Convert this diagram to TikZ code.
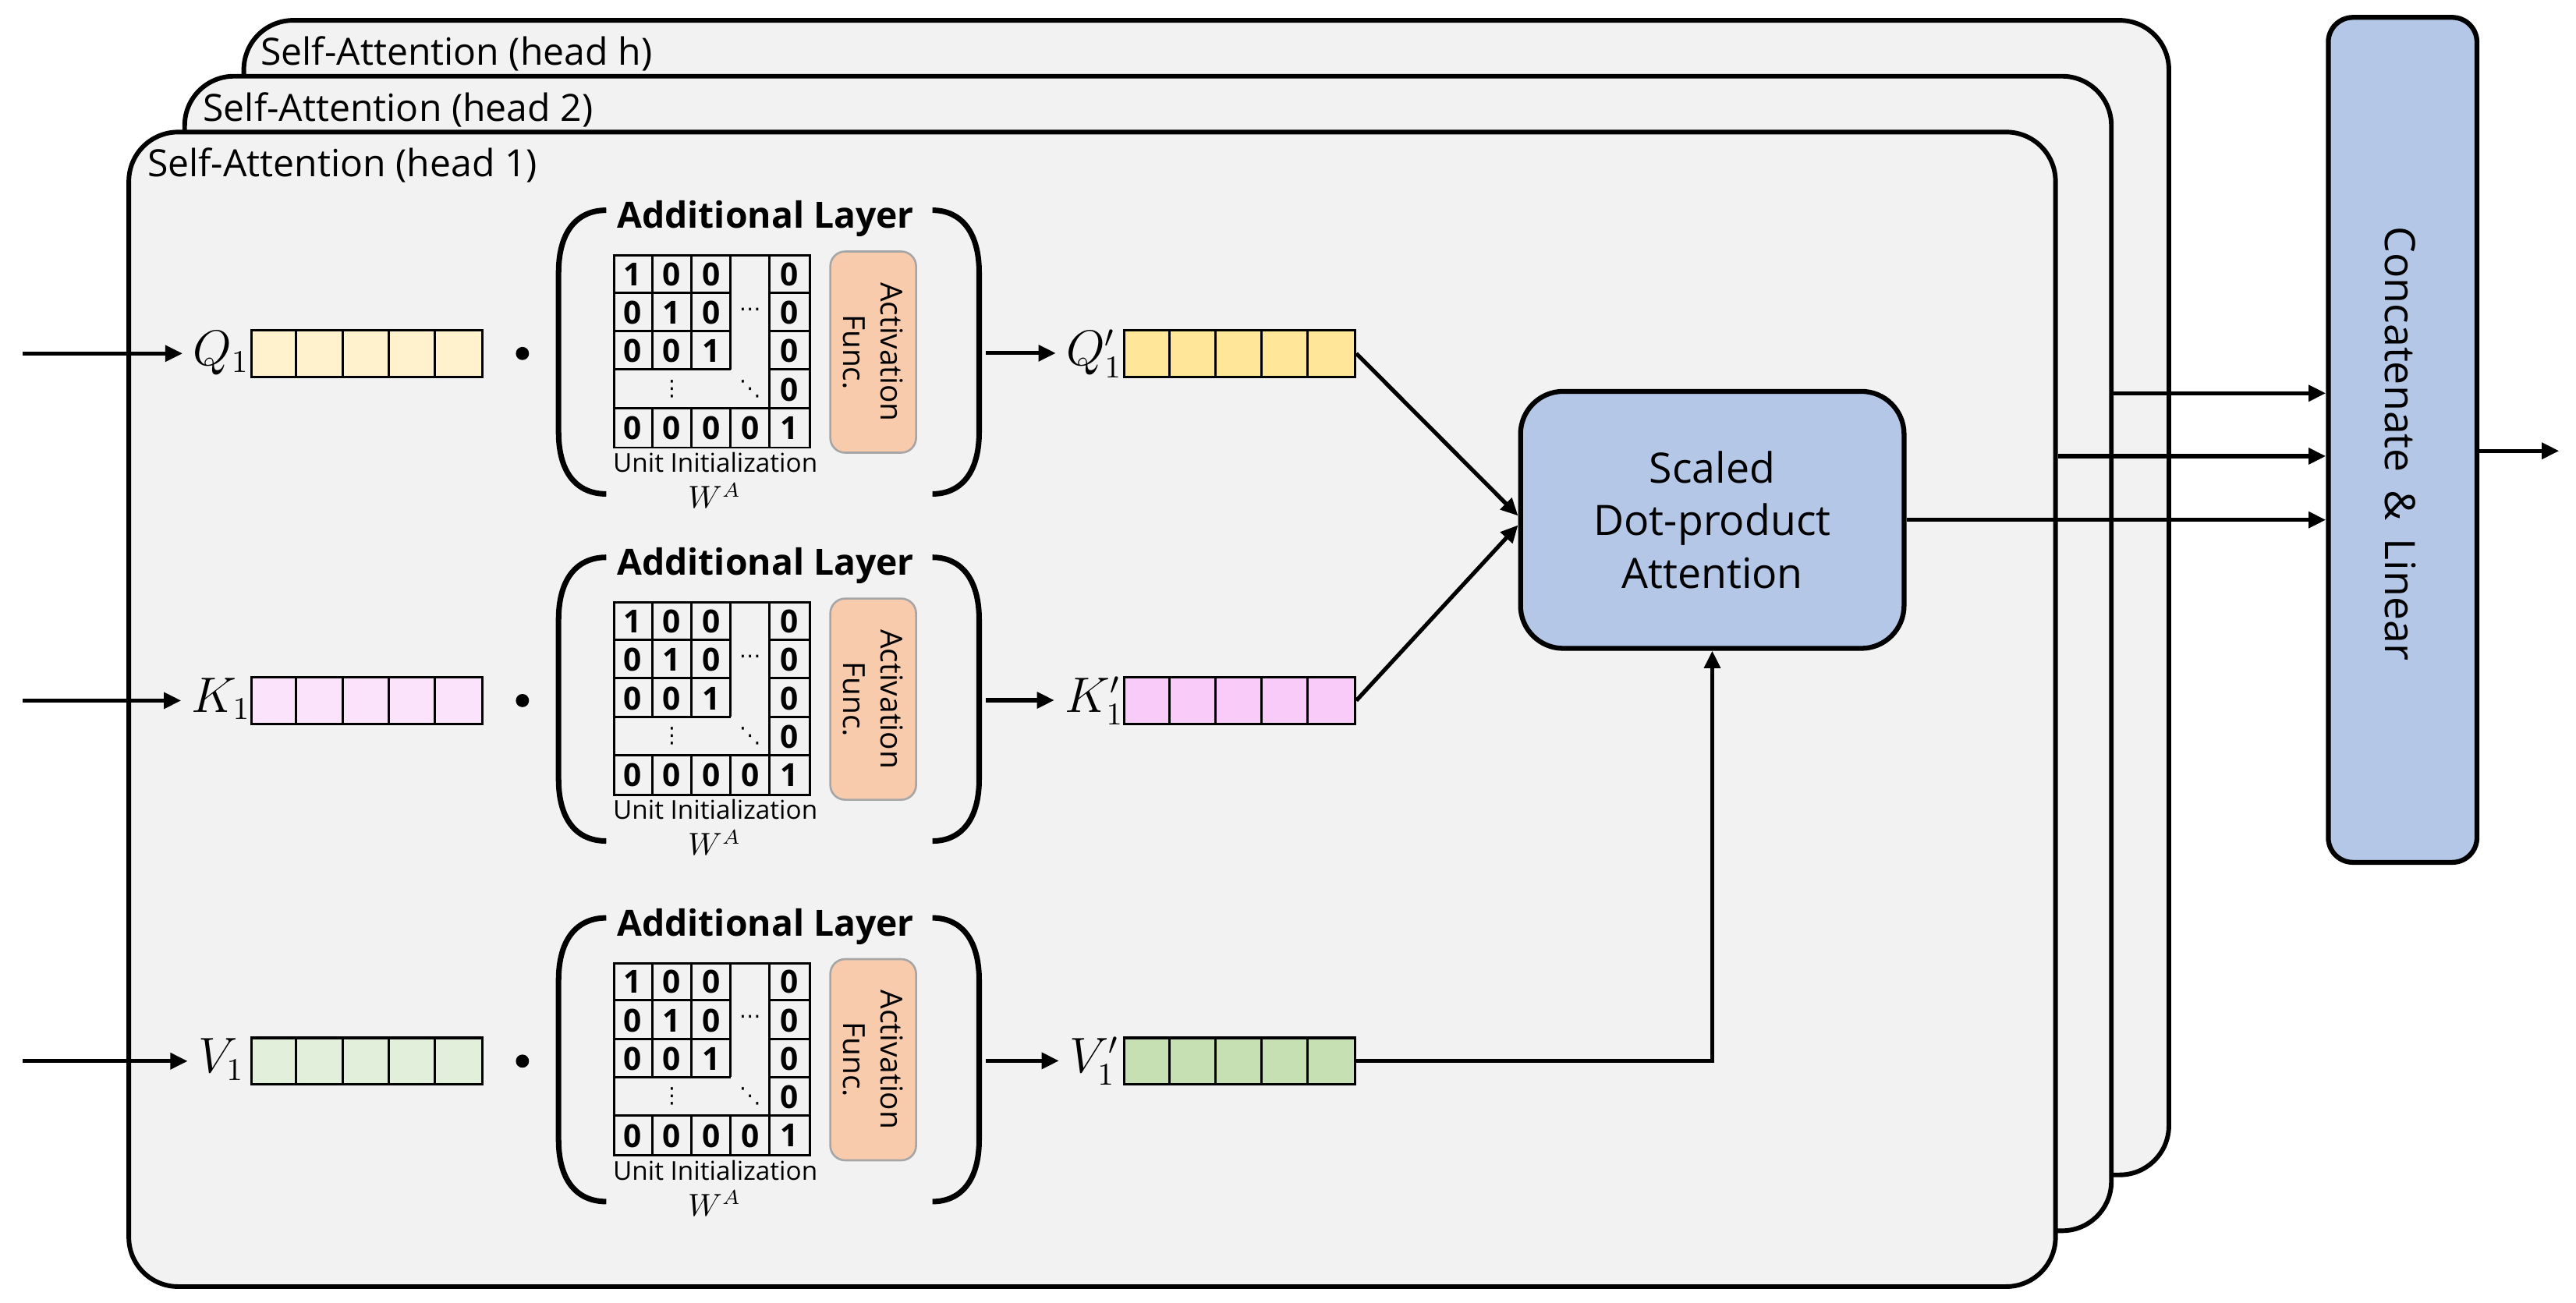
\documentclass[tikz,border=0pt]{standalone}
\usepackage{fontspec}
\setmainfont{Open Sans}
\newfontfamily\dejavu{DejaVu Sans}
\usetikzlibrary{arrows.meta,calc}
\definecolor{framefill}{HTML}{F2F2F2}
\definecolor{qlight}{HTML}{FFF2CC}
\definecolor{qdark}{HTML}{FFE699}
\definecolor{klight}{HTML}{FBE3FB}
\definecolor{kdark}{HTML}{F8CBF8}
\definecolor{vlight}{HTML}{E2EFDA}
\definecolor{vdark}{HTML}{C6E0B4}
\definecolor{blu}{HTML}{B4C7E7}
\definecolor{act}{HTML}{F8CBAD}
\definecolor{actborder}{HTML}{A6A6A6}
\begin{document}
\begin{tikzpicture}[x=0.02cm, y=-0.02cm,
  frame/.style={draw, line width=1.6pt, fill=framefill, rounded corners=0.6cm, inner sep=0, anchor=north west},
  txt/.style={inner sep=0},
  headlab/.style={inner sep=0, anchor=base west, font=\fontsize{13}{14}\selectfont},
  vec/.style={draw, line width=0.9pt, minimum width=2.81cm, minimum height=0.568cm, inner sep=0},
  cellline/.style={line width=0.8pt},
  matbox/.style={draw, line width=0.8pt, minimum width=2.38cm, minimum height=2.34cm, inner sep=0},
  matline/.style={line width=0.8pt},
  digit/.style={inner sep=0, font=\bfseries\fontsize{11}{11}\selectfont},
  mdots/.style={inner sep=0, font=\dejavu\fontsize{7.5}{7.5}\selectfont},
  actbox/.style={draw=actborder, line width=0.7pt, fill=act, rounded corners=0.18cm, minimum width=2.45cm, minimum height=1.044cm, rotate=-90, align=center, inner sep=0, font=\fontsize{10.5}{12.9}\selectfont},
  brk/.style={line width=1.9pt},
  mlab/.style={inner xsep=0.12cm, inner ysep=0, anchor=base, font=\fontsize{16}{16}\selectfont},
  dotn/.style={circle, fill, inner sep=0, minimum size=0.16cm},
  blubox/.style={draw, line width=1.7pt, fill=blu, inner sep=0},
  arr/.style={line width=1.4pt, -{Triangle[length=6pt,width=5.5pt]}},
  lin/.style={line width=1.4pt}
]
\useasboundingbox (0,0) rectangle (1568,793);

% stacked heads
\node[frame, minimum width=23.44cm, minimum height=14.06cm] (headh) at (147,11) {};
\node[headlab] (labh) at (158.4,39.6) {Self-Attention (head h)};
\node[frame, minimum width=23.46cm, minimum height=14.06cm] (head2) at (111,45) {};
\node[headlab] (lab2) at (123.3,73.6) {Self-Attention (head 2)};
\node[frame, minimum width=23.46cm, minimum height=14.06cm] (head1) at (77,79) {};
\node[headlab] (lab1) at (89.4,107.6) {Self-Attention (head 1)};

% rows
\foreach \r/\dy/\L/\cl/\cd in {q/0/Q/qlight/qdark, k/211.3/K/klight/kdark, v/430.8/V/vlight/vdark} {
  % input vector
  \node[vec, fill=\cl] (in-\r) at (223.25,215.2+\dy) {};
  \foreach \i in {1,...,4}
    \draw[cellline] ($(in-\r.north west)+(28.1*\i,0)$) -- ($(in-\r.south west)+(28.1*\i,0)$);
  \node[mlab] (lab-\r) at (134.5,222.3+\dy) {$\L_1$};
  \node[dotn] (dot-\r) at (318,215.2+\dy) {};
  % additional layer bracket
  \draw[brk] (369,128+\dy) .. controls (352,128+\dy) and (340,140+\dy) .. (340,166+\dy)
     -- (340,263+\dy) .. controls (340,289+\dy) and (352,300.7+\dy) .. (369,300.7+\dy);
  \draw[brk] (567.6,128+\dy) .. controls (584,128+\dy) and (596,140+\dy) .. (596,166+\dy)
     -- (596,263+\dy) .. controls (596,289+\dy) and (584,300.7+\dy) .. (567.6,300.7+\dy);
  \node[txt, anchor=base, font=\bfseries\fontsize{12.5}{13}\selectfont] (title-\r) at (466,139+\dy) {Additional Layer};
  % matrix
  \node[matbox] (mat-\r) at (433.5,214+\dy) {};
  \foreach \xx in {23.8,47.6,71.4} {
    \draw[matline] ($(mat-\r.north west)+(\xx,0)$) -- ++(0,70.2);
    \draw[matline] ($(mat-\r.north west)+(\xx,93.6)$) -- ++(0,23.4);
  }
  \draw[matline] ($(mat-\r.north west)+(95.2,0)$) -- ++(0,117);
  \foreach \yy in {23.4,46.8,70.2} {
    \draw[matline] ($(mat-\r.north west)+(0,\yy)$) -- ++(71.4,0);
    \draw[matline] ($(mat-\r.north west)+(95.2,\yy)$) -- ++(23.8,0);
  }
  \draw[matline] ($(mat-\r.north west)+(0,93.6)$) -- ++(119,0);
  \foreach \cc/\rr/\dg in {0/0/1,1/0/0,2/0/0,4/0/0, 0/1/0,1/1/1,2/1/0,4/1/0, 0/2/0,1/2/0,2/2/1,4/2/0, 4/3/0, 0/4/0,1/4/0,2/4/0,3/4/0,4/4/1}
    \node[digit] (d-\r-\cc-\rr) at ($(mat-\r.north west)+(11.9+23.8*\cc,12.2+23.4*\rr)$) {\dg};
  \node[mdots] (hd-\r) at ($(mat-\r.north west)+(83.3,35.1)$) {⋯};
  \node[mdots] (vd-\r) at ($(mat-\r.north west)+(35.7,81.9)$) {⋮};
  \node[mdots] (dd-\r) at ($(mat-\r.north west)+(83.3,81.9)$) {⋱};
  \node[txt, anchor=base, font=\fontsize{9}{9}\selectfont] (ui-\r) at (435.4,287.5+\dy) {Unit Initialization};
  \node[txt, anchor=base, font=\fontsize{10.5}{10.5}\selectfont] (wa-\r) at (434.9,309.4+\dy) {$W^A$};
  % activation
  \node[actbox] (act-\r) at (531.5,214.35+\dy) {Activation\\Func.};
  % output vector
  \coordinate (bo-\r) at (600,215+\dy);
  \node[mlab] (labp-\r) at (666,222.3+\dy) {$\L_1'$};
  \node[vec, fill=\cd] (out-\r) at (754.55,215.2+\dy) {};
  \foreach \i in {1,...,4}
    \draw[cellline] ($(out-\r.north west)+(28.1*\i,0)$) -- ($(out-\r.south west)+(28.1*\i,0)$);
  % input source
  \coordinate (src-\r) at (13.8,215.2+\dy);
}

% scaled dot-product attention
\node[blubox, rounded corners=0.52cm, minimum width=4.67cm, minimum height=3.13cm, align=center,
  font=\fontsize{14.5}{18.2}\selectfont] (sdpa) at (1042.25,316.5) {Scaled\\Dot-product\\Attention};

% concatenate
\node[blubox, rounded corners=0.3cm, minimum width=1.81cm, minimum height=10.29cm] (concat) at (1462.45,267.8) {};
\node[txt, rotate=-90, font=\fontsize{14.5}{15}\selectfont] (concat-txt) at (1461,270) {Concatenate \,\&\, Linear};

% connectors
\foreach \r in {q,k,v} {
  \draw[arr] (src-\r) -- (src-\r -| lab-\r.west);
  \draw[arr] (bo-\r) -- (bo-\r -| labp-\r.west);
}
\draw[arr] (out-q.east) -- ([yshift=0.05cm]sdpa.west);
\draw[arr] (out-k.east) -- ([yshift=-0.064cm]sdpa.west);
\draw[arr] (out-v.east) -| (sdpa.south);

\coordinate (o2) at (head2.east |- 0,239.4);
\coordinate (o1) at (head1.east |- 0,277.7);
\coordinate (o0) at (sdpa.east);
\draw[arr] (o2) -- (o2 -| concat.west);
\draw[arr] (o1) -- (o1 -| concat.west);
\draw[arr] (o0) -- (o0 -| concat.west);
\coordinate (outend) at (1557.7,274.5);
\draw[arr] (concat.east |- outend) -- (outend);
\end{tikzpicture}
\end{document}
